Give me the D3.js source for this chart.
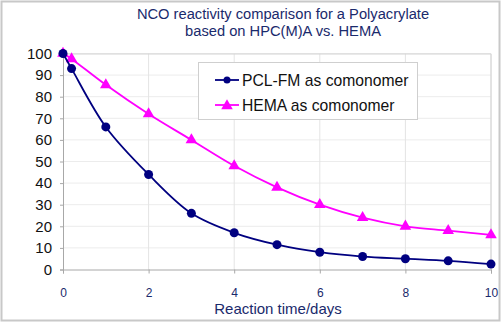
<!DOCTYPE html>
<html>
<head>
<meta charset="utf-8">
<script src="https://cdn.jsdelivr.net/npm/d3@7"></script>
<style>
  body { margin: 0; background: #fff; }
  svg { display: block; font-family: "Liberation Sans", Arial, sans-serif; }
</style>
</head>
<body>
<div id="chart"></div>
<script>
// data
const days = [0, 0.2, 1, 2, 3, 4, 5, 6, 7, 8, 9, 10];
const pclValues = [100, 93, 66, 44, 26, 17, 11.5, 8, 6, 5, 4, 2.5];
const hemaValues = [100, 97.5, 85.5, 72, 60, 48, 38, 30, 24, 20, 18, 16];
const xTicks = [0, 2, 4, 6, 8, 10];
const yTicks = [0, 10, 20, 30, 40, 50, 60, 70, 80, 90, 100];
const titleLines = ["NCO reactivity comparison for a Polyacrylate", "based on HPC(M)A vs. HEMA"];
const seriesNames = ["PCL-FM as comonomer", "HEMA as comonomer"];

const W = 502, H = 323;
const margin = { top: 53.5, right: 11, bottom: 53.5, left: 63 },
    width = W - margin.left - margin.right,
    height = H - margin.top - margin.bottom;

const svg = d3.select("#chart").append("svg")
    .attr("width", W)
    .attr("height", H);

// outer frame
svg.append("rect")
    .attr("x", 1.5).attr("y", 1.5)
    .attr("width", W - 4).attr("height", H - 4)
    .attr("fill", "#fff")
    .attr("stroke", "#c8c8c8")
    .attr("stroke-width", 2);

const g = svg.append("g")
    .attr("transform", `translate(${margin.left},${margin.top})`);

const x = d3.scaleLinear().domain([0, 10]).range([0, width]);
const y = d3.scaleLinear().domain([0, 100]).range([height, 0]);

// grid
g.append("g")
    .selectAll("line")
    .data(yTicks.slice(1))
    .join("line")
    .attr("x1", 0).attr("x2", width)
    .attr("y1", d => y(d)).attr("y2", d => y(d))
    .attr("stroke", "#ececec");
g.append("g")
    .selectAll("line")
    .data(xTicks.slice(1))
    .join("line")
    .attr("x1", d => x(d)).attr("x2", d => x(d))
    .attr("y1", 0).attr("y2", height)
    .attr("stroke", "#e4e4e4");

// plot border top / right
g.append("path")
    .attr("d", `M0,0.5H${width}V${height}`)
    .attr("fill", "none")
    .attr("stroke", "#d4d4d4");

// Y axis
const yAxis = g.append("g")
    .call(d3.axisLeft(y).tickValues(yTicks).tickSize(3).tickPadding(8));
yAxis.select(".domain").attr("stroke", "#a8a8a8");
yAxis.selectAll(".tick line").attr("stroke", "#a8a8a8");
yAxis.selectAll("text")
    .attr("font-size", 15)
    .attr("font-family", "Liberation Sans, Arial, sans-serif")
    .attr("fill", "#111");

// X axis
const xAxis = g.append("g")
    .attr("transform", `translate(0,${height})`)
    .call(d3.axisBottom(x).tickValues(xTicks).tickSize(4).tickPadding(15));
xAxis.select(".domain").attr("stroke", "#a8a8a8");
xAxis.selectAll(".tick line").attr("stroke", "#a8a8a8");
xAxis.selectAll("text")
    .attr("font-size", 12)
    .attr("font-family", "Liberation Sans, Arial, sans-serif")
    .attr("fill", "#1a2a6c");

// axis title
svg.append("text")
    .attr("x", 278).attr("y", 314)
    .attr("text-anchor", "middle")
    .attr("font-size", 15)
    .attr("fill", "#1a2a6c")
    .text("Reaction time/days");

// chart title
svg.append("g")
    .selectAll("text")
    .data(titleLines)
    .join("text")
    .attr("x", 283)
    .attr("y", (d, i) => 19 + i * 17)
    .attr("text-anchor", "middle")
    .attr("font-size", 14.7)
    .attr("fill", "#1a2a6c")
    .text(d => d);

const line = d3.line()
    .x(d => x(d[0]))
    .y(d => y(d[1]))
    .curve(d3.curveCatmullRom.alpha(0.5));

const pcl = days.map((d, i) => [d, pclValues[i]]);
const hema = days.map((d, i) => [d, hemaValues[i]]);

const navy = "#000080", magenta = "#ff00ff";
const tri = d3.symbol().type(d3.symbolTriangle).size(58);

// HEMA series
g.append("path")
    .datum(hema)
    .attr("fill", "none")
    .attr("stroke", magenta)
    .attr("stroke-width", 1.8)
    .attr("d", line);
g.append("g")
    .selectAll("path")
    .data(hema)
    .join("path")
    .attr("transform", d => `translate(${x(d[0])},${y(d[1])})`)
    .attr("d", tri)
    .attr("fill", magenta);

// PCL-FM series
g.append("path")
    .datum(pcl)
    .attr("fill", "none")
    .attr("stroke", navy)
    .attr("stroke-width", 1.8)
    .attr("d", line);
g.append("g")
    .selectAll("circle")
    .data(pcl)
    .join("circle")
    .attr("cx", d => x(d[0]))
    .attr("cy", d => y(d[1]))
    .attr("r", 4.5)
    .attr("fill", navy);

// legend
const legend = svg.append("g");
legend.append("rect")
    .attr("x", 198.5).attr("y", 62.5)
    .attr("width", 219).attr("height", 57)
    .attr("fill", "#fff")
    .attr("stroke", "#cfcfcf");

const items = legend.selectAll("g.item")
    .data(seriesNames)
    .join("g")
    .attr("class", "item")
    .attr("transform", (d, i) => `translate(215,${80 + i * 25})`);
items.append("line")
    .attr("x1", 0).attr("x2", 24)
    .attr("stroke", (d, i) => i === 0 ? navy : magenta)
    .attr("stroke-width", 1.8);
items.filter((d, i) => i === 0).append("circle")
    .attr("cx", 12).attr("r", 3.5).attr("fill", navy);
items.filter((d, i) => i === 1).append("path")
    .attr("transform", "translate(12,1)")
    .attr("d", tri)
    .attr("fill", magenta);
items.append("text")
    .attr("x", 27).attr("y", 5.5)
    .attr("font-size", 15.7)
    .attr("fill", "#111")
    .text(d => d);
</script>
</body>
</html>
